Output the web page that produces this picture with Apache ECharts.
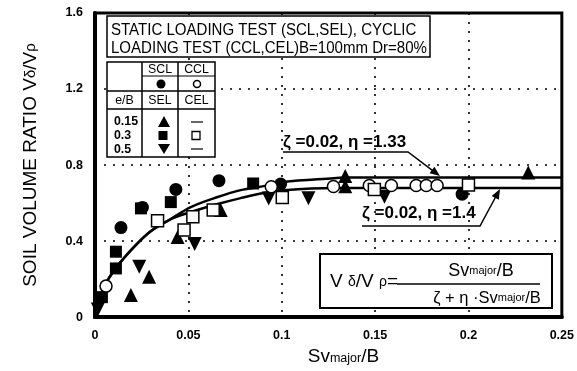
<!DOCTYPE html>
<html>
<head>
<meta charset="utf-8">
<script src="https://cdn.jsdelivr.net/npm/echarts@6/dist/echarts.min.js"></script>
<style>
html,body{margin:0;padding:0;background:#fff;}
#c{width:577px;height:371px;}
</style>
</head>
<body>
<div id="c"></div>
<script>
// ---- tick labels ----
const xTicks = ['0', '0.05', '0.1', '0.15', '0.2', '0.25'];
const yTicks = ['0', '0.4', '0.8', '1.2', '1.6'];

// ---- measured points [Sv_major/B, V_delta/V_rho] ----
const sclPoints = [[0.0139, 0.471], [0.0254, 0.577], [0.0433, 0.672], [0.0664, 0.718], [0.0994, 0.700], [0.1966, 0.647]];
const cclPoints = [[0.0059, 0.163], [0.0944, 0.686], [0.1277, 0.687], [0.1469, 0.692], [0.1587, 0.692], [0.1720, 0.692], [0.1774, 0.692], [0.1832, 0.692]];
const selUp = [[0.0192, 0.116], [0.0290, 0.212], [0.0442, 0.421], [0.0673, 0.563], [0.1340, 0.742], [0.1340, 0.689], [0.2320, 0.761]];
const selSquare = [[0.0037, 0.105], [0.0112, 0.256], [0.0112, 0.344], [0.0246, 0.572], [0.0406, 0.605], [0.0847, 0.703]];
const selDown = [[0.0015, 0.040], [0.0237, 0.265], [0.0534, 0.384], [0.0930, 0.624], [0.1143, 0.625], [0.1550, 0.633]];
const celSquare = [[0.0335, 0.507], [0.0524, 0.528], [0.0477, 0.458], [0.0633, 0.563], [0.1003, 0.629], [0.1496, 0.671], [0.2000, 0.695]];

// ---- fitted curves ----
const curveX = [0, 0.0027, 0.0048, 0.0112, 0.0208, 0.030, 0.0406, 0.0513, 0.0657, 0.078, 0.0903, 0.101, 0.128, 0.133, 0.25];
const curveUpper = [0, 0.084, 0.158, 0.258, 0.368, 0.453, 0.516, 0.579, 0.632, 0.668, 0.689, 0.711, 0.731, 0.734, 0.734];
const curveLower = [0, 0.084, 0.158, 0.258, 0.368, 0.453, 0.516, 0.553, 0.595, 0.626, 0.653, 0.668, 0.679, 0.679, 0.679];

const FONT = '"Liberation Sans", Arial, sans-serif';
const zip = (xs, ys) => xs.map((x, i) => [x, ys[i]]);

const chart = echarts.init(document.getElementById('c'), null, {renderer: 'canvas'});

function sc(name, data, symbol, size, fill, extra) {
  return Object.assign({
    name: name, type: 'scatter', data: data, symbol: symbol, symbolSize: size,
    itemStyle: {color: fill, borderColor: '#000', borderWidth: fill === '#fff' ? 1.5 : 0, opacity: 1},
    emphasis: {disabled: true}, z: 5
  }, extra || {});
}

const G = [];
function rect(x, y, w, h, lw) {
  G.push({type: 'rect', shape: {x: x, y: y, width: w, height: h}, style: {fill: '#fff', stroke: '#000', lineWidth: lw}, z: 100});
}
function line(x1, y1, x2, y2, lw) {
  G.push({type: 'line', shape: {x1: x1, y1: y1, x2: x2, y2: y2}, style: {stroke: '#000', lineWidth: lw}, z: 101});
}
function txt(x, y, t, size, weight, align, sx, rich) {
  const o = {type: 'text', x: x, y: y, scaleX: sx || 1, z: 102,
    style: {text: t, fontFamily: FONT, fontSize: size, fontWeight: weight || 'normal', fill: '#000', align: align || 'left', verticalAlign: 'middle'}};
  if (rich) o.style.rich = rich;
  G.push(o);
}
function poly(points) {
  G.push({type: 'polygon', shape: {points: points}, style: {fill: '#000'}, z: 101});
}

// title box
rect(107, 16, 323, 41, 1.5);
txt(111, 31, 'STATIC LOADING TEST (SCL,SEL), CYCLIC', 16, 'normal', 'left', 0.94);
txt(111, 49, 'LOADING TEST (CCL,CEL)B=100mm Dr=80%', 16, 'normal', 'left', 0.94);

// legend table
rect(107, 62, 108, 95, 1.5);
line(142, 62, 142, 157, 1.5);
line(178, 62, 178, 157, 1.5);
line(142, 76, 215, 76, 1.2);
line(107, 91, 215, 91, 1.5);
line(107, 109, 215, 109, 1.5);
txt(160, 69.5, 'SCL', 13, 'normal', 'center', 0.95);
txt(196.5, 69.5, 'CCL', 13, 'normal', 'center', 0.95);
G.push({type: 'circle', shape: {cx: 161, cy: 84, r: 4.5}, style: {fill: '#000'}, z: 102});
G.push({type: 'circle', shape: {cx: 197, cy: 84, r: 3.5}, style: {fill: '#fff', stroke: '#000', lineWidth: 1.5}, z: 102});
txt(124.5, 100, 'e/B', 13, 'normal', 'center', 0.95);
txt(160, 100, 'SEL', 13, 'normal', 'center', 0.95);
txt(196.5, 100, 'CEL', 13, 'normal', 'center', 0.95);
txt(114, 121, '0.15', 13, 'bold', 'left', 0.95);
txt(114, 135, '0.3', 13, 'bold', 'left', 0.95);
txt(114, 149, '0.5', 13, 'bold', 'left', 0.95);
poly([[164, 116], [158, 127], [170, 127]]);
G.push({type: 'rect', shape: {x: 158.5, y: 131, width: 9, height: 9}, style: {fill: '#000'}, z: 102});
poly([[164, 154], [158, 144], [170, 144]]);
line(191, 122, 203, 122, 1.2);
G.push({type: 'rect', shape: {x: 192, y: 131.5, width: 8, height: 8}, style: {fill: '#fff', stroke: '#000', lineWidth: 1.3}, z: 102});
line(191, 149, 203, 149, 1.2);

// curve labels and arrows
txt(283, 142, 'ζ =0.02, η =1.33', 17, 'bold', 'left', 1);
G.push({type: 'polyline', shape: {points: [[283, 152], [408, 152], [433, 170.8]]}, style: {stroke: '#000', lineWidth: 1.5, fill: null}, z: 101});
poly([[440, 176], [429.6, 173.2], [434.4, 166.8]]);
txt(362, 213, 'ζ =0.02, η =1.4', 17, 'bold', 'left', 1);
G.push({type: 'polyline', shape: {points: [[362, 226], [480, 226], [497.5, 193.5]]}, style: {stroke: '#000', lineWidth: 1.5, fill: null}, z: 101});
poly([[500, 189], [498.8, 199.7], [491.7, 195.9]]);

// formula box
rect(320, 254, 232, 54, 2);
txt(330, 282, '{b|V }{g|δ}{b|/V }{g|ρ}{b|=}', 19, 'normal', 'left', 1,
  {b: {fontSize: 19, fontFamily: FONT}, g: {fontSize: 14, fontFamily: FONT}});
line(397, 284, 540, 284, 1.5);
txt(481, 271, '{b|Sv}{s|major}{b|/B}', 18, 'normal', 'center', 1,
  {b: {fontSize: 18, fontFamily: FONT}, s: {fontSize: 11, fontFamily: FONT}});
txt(487, 298, '{b|ζ + η ·Sv}{s|major}{b|/B}', 16, 'normal', 'center', 1,
  {b: {fontSize: 16.5, fontFamily: FONT}, s: {fontSize: 11, fontFamily: FONT}});

const option = {
  backgroundColor: '#fff',
  animation: false,
  textStyle: {fontFamily: FONT},
  grid: {left: 95, right: 15, top: 13, bottom: 53, show: true, borderColor: '#000', borderWidth: 3, backgroundColor: 'transparent'},
  xAxis: {
    type: 'value', min: 0, max: 0.25, interval: 0.05,
    name: 'Sv{s|major}/B', nameLocation: 'middle', nameGap: 24,
    nameTextStyle: {fontSize: 19, color: '#000', fontFamily: FONT, padding: [0, 0, 0, 30],
      rich: {s: {fontSize: 12.5, fontFamily: FONT, color: '#000', padding: [4, 0, 0, 0]}}},
    axisLine: {show: true, lineStyle: {color: '#000', width: 4}},
    axisTick: {show: false},
    axisLabel: {color: '#000', fontSize: 12.5, fontWeight: 'bold', margin: 12, fontFamily: FONT,
      formatter: v => xTicks[Math.round(v / 0.05)]},
    splitLine: {show: true, lineStyle: {color: '#000', width: 1.6, type: [2, 7]}}
  },
  yAxis: {
    type: 'value', min: 0, max: 1.6, interval: 0.4,
    name: 'SOIL VOLUME RATIO V{g|δ}/V{g|ρ}', nameLocation: 'middle', nameRotate: 90, nameGap: 55,
    nameTextStyle: {fontSize: 19, color: '#000', fontFamily: FONT, padding: [0, 0, 0, 0],
      rich: {g: {fontSize: 15, fontFamily: FONT, color: '#000'}}},
    axisLine: {show: true, lineStyle: {color: '#000', width: 4}},
    axisTick: {show: false},
    axisLabel: {color: '#000', fontSize: 12.5, fontWeight: 'bold', margin: 12, fontFamily: FONT,
      formatter: v => yTicks[Math.round(v / 0.4)]},
    splitLine: {show: true, lineStyle: {color: '#000', width: 1.6, type: [2, 7]}}
  },
  series: [
    {name: 'ζ=0.02, η=1.33', type: 'line', data: zip(curveX, curveUpper), smooth: 0.35, symbol: 'none',
      lineStyle: {color: '#000', width: 2.5}, z: 3, emphasis: {disabled: true}},
    {name: 'ζ=0.02, η=1.4', type: 'line', data: zip(curveX, curveLower), smooth: 0.35, symbol: 'none',
      lineStyle: {color: '#000', width: 2.5}, z: 3, emphasis: {disabled: true}},
    sc('SCL', sclPoints, 'circle', 13, '#000'),
    sc('SEL 0.15', selUp, 'triangle', 14, '#000'),
    sc('SEL 0.3', selSquare, 'rect', 12, '#000'),
    sc('SEL 0.5', selDown, 'triangle', 14, '#000', {symbolRotate: 180}),
    sc('CCL', cclPoints, 'circle', 12, '#fff', {z: 6}),
    sc('CEL', celSquare, 'rect', 12, '#fff', {z: 7})
  ],
  graphic: {elements: G}
};
chart.setOption(option);
</script>
</body>
</html>
